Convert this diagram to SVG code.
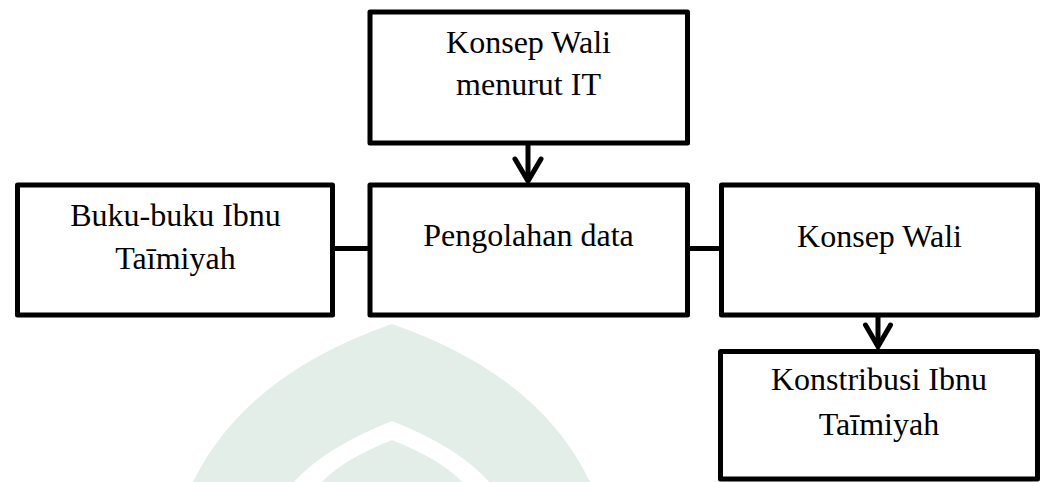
<svg xmlns="http://www.w3.org/2000/svg" width="1046" height="482" viewBox="0 0 1046 482">
  <style>
    .box { fill: none; stroke: #000; stroke-width: 5; stroke-linejoin: round; }
    .lbl { font-family: "Liberation Serif", serif; font-size: 32px; fill: #000; text-anchor: middle; }
    .conn { fill: none; stroke: #000; stroke-width: 5; }
    .head { fill: none; stroke: #000; stroke-width: 5; stroke-linejoin: miter; stroke-linecap: round; }
    .wm { fill: #e4eee9; }
  </style>
  <rect width="1046" height="482" fill="#fff"/>

  <g id="watermark">
    <path class="wm" d="M392,324 Q539,375 590,482 L193,482 Q245,375 392,324 Z"/>
    <path fill="#fff" d="M392,421 Q460,448 489,482 L294,482 Q324,448 392,421 Z"/>
    <path class="wm" d="M392,440 Q442,460 462,482 L322,482 Q342,460 392,440 Z"/>
  </g>

  <g id="connectors">
    <line class="conn" x1="528" y1="144" x2="528" y2="179"/>
    <polyline class="head" points="515,159 528,181 541,159"/>
    <line class="conn" x1="334" y1="248.5" x2="369" y2="248.5"/>
    <line class="conn" x1="689" y1="248.5" x2="721" y2="248.5"/>
    <line class="conn" x1="878" y1="317" x2="878" y2="345"/>
    <polyline class="head" points="865.5,325 878,346.5 890.5,325"/>
  </g>

  <g id="node-konsep-wali-it">
    <rect class="box" x="370" y="12" width="317.5" height="131"/>
    <text class="lbl" x="528.5" y="53">Konsep Wali</text>
    <text class="lbl" x="528.5" y="95">menurut IT</text>
  </g>

  <g id="node-buku">
    <rect class="box" x="17.5" y="185" width="315" height="130"/>
    <text class="lbl" x="175.5" y="226">Buku-buku Ibnu</text>
    <text class="lbl" x="175.5" y="269">Taīmiyah</text>
  </g>

  <g id="node-pengolahan">
    <rect class="box" x="370" y="185" width="317.5" height="130"/>
    <text class="lbl" x="528.5" y="246">Pengolahan data</text>
  </g>

  <g id="node-konsep-wali">
    <rect class="box" x="721.5" y="185" width="316" height="130"/>
    <text class="lbl" x="879.5" y="247">Konsep Wali</text>
  </g>

  <g id="node-konstribusi">
    <rect class="box" x="720.5" y="351.5" width="317" height="127.5"/>
    <text class="lbl" x="879" y="390">Konstribusi Ibnu</text>
    <text class="lbl" x="879" y="435">Taīmiyah</text>
  </g>
</svg>
